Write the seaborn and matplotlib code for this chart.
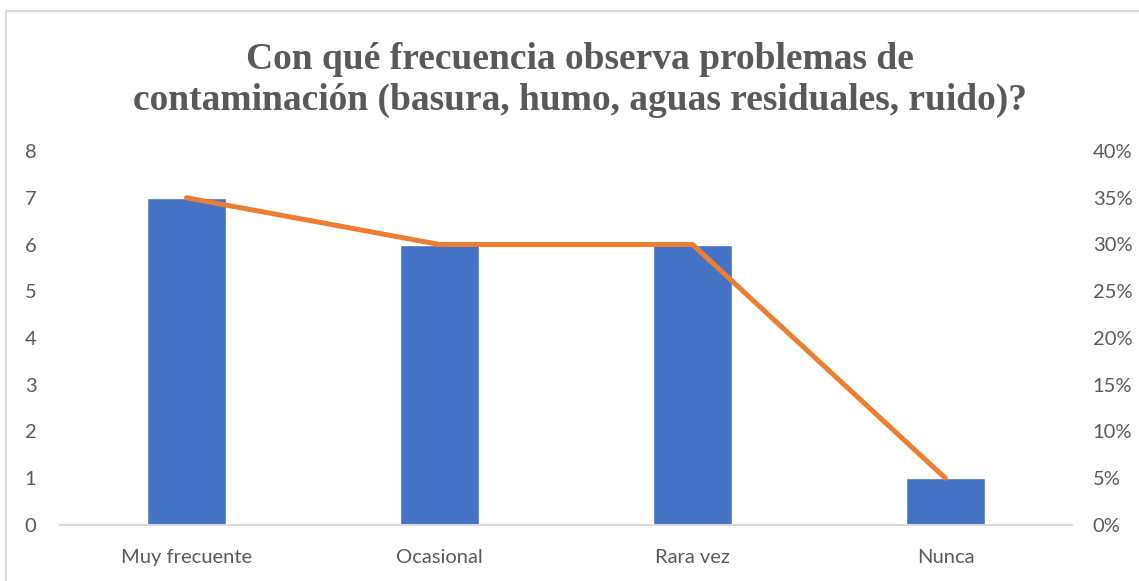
import matplotlib
matplotlib.use("Agg")
import matplotlib.pyplot as plt
from matplotlib.patches import Rectangle
from matplotlib.ticker import PercentFormatter
import seaborn as sns
import pandas as pd

categories = ["Muy frecuente", "Ocasional", "Rara vez", "Nunca"]
counts = [7, 6, 6, 1]
percents = [0.35, 0.30, 0.30, 0.05]
title = "Con qué frecuencia observa problemas de\ncontaminación (basura, humo, aguas residuales, ruido)?"

df = pd.DataFrame({"categoria": categories, "n": counts, "pct": percents})

sns.set_style("white")
plt.rcParams["font.family"] = ["Lato", "DejaVu Sans"]
grey = "#595959"

fig = plt.figure(figsize=(11.39, 5.81), dpi=100)
ax = fig.add_axes([60 / 1139, 56 / 581, 1012 / 1139, 374 / 581])

sns.barplot(data=df, x="categoria", y="n", color="#4472C4", width=0.316,
            saturation=1, ax=ax)
ax.set_ylim(0, 8)
ax.set_xlim(-0.5, 3.5)
ax.set_yticks(range(0, 9))
ax.set_xlabel("")
ax.set_ylabel("")
ax.tick_params(axis="both", length=0, labelsize=14.5, labelcolor=grey)
ax.tick_params(axis="y", pad=17)
ax.tick_params(axis="x", pad=17)
for s in ["top", "left", "right"]:
    ax.spines[s].set_visible(False)
ax.spines["bottom"].set_color("#D9D9D9")
ax.spines["bottom"].set_linewidth(1.5)

ax2 = ax.twinx()
sns.lineplot(x=list(range(len(categories))), y=percents, color="#ED7D31",
             linewidth=3.6, ax=ax2)
ax2.set_ylim(0, 0.40)
ax2.set_yticks([i * 0.05 for i in range(9)])
ax2.yaxis.set_major_formatter(PercentFormatter(1.0, decimals=0))
ax2.tick_params(axis="y", length=0, labelsize=14.5, labelcolor=grey, pad=15)
for s in ["top", "left", "right", "bottom"]:
    ax2.spines[s].set_visible(False)
ax2.set_xlim(-0.5, 3.5)

fig.text(580 / 1139, 1 - 80 / 581, title, ha="center", va="center",
         fontsize=27, fontweight="bold", color=grey,
         family=["Liberation Serif", "DejaVu Serif"], linespacing=1.25)

fig.patches.append(Rectangle((6 / 1139, -0.1), 1.2, 1 - 11 / 581 + 0.1,
                             transform=fig.transFigure, fill=False,
                             edgecolor="#D9D9D9", linewidth=1.5))

fig.savefig("out.png", dpi=100)
